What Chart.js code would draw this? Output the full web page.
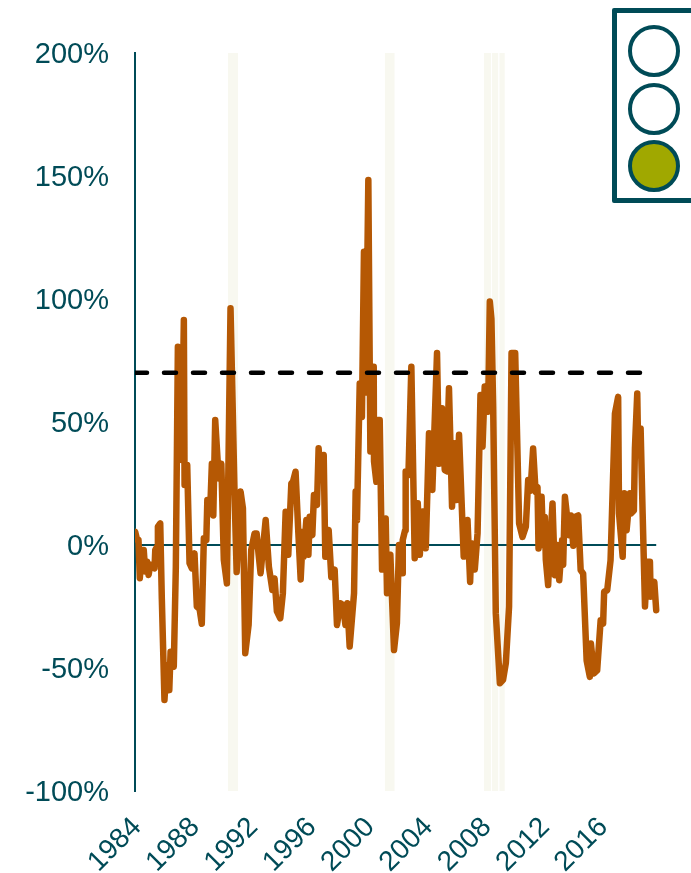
<!DOCTYPE html>
<html>
<head>
<meta charset="utf-8">
<title>Chart</title>
<script src="https://cdn.jsdelivr.net/npm/chart.js@4"></script>
<style>
    html, body { margin: 0; padding: 0; background: #fff; overflow: hidden; }
    #wrap { position: relative; width: 691px; height: 873px; }
    #light { position: absolute; left: 612px; top: 8px; width: 90px; height: 185px; border: 5px solid #004b57; border-radius: 2px; }
    .lamp { position: absolute; left: 628px; width: 44px; height: 44px; border: 4px solid #004b57; border-radius: 50%; background: #fff; }
    .lamp.on { background: #a0a800; }
</style>
</head>
<body>
<div id="wrap">
    <canvas id="chart" width="691" height="873"></canvas>
    <div id="light"></div>
    <div class="lamp" style="top:25px"></div>
    <div class="lamp" style="top:83px"></div>
    <div class="lamp on" style="top:140px"></div>
</div>
<script>
// Decimal years against percent
const dates = [
    1984.01, 1984.15, 1984.24, 1984.33, 1984.47, 1984.60, 1984.70, 1984.84, 1984.93, 1985.06,
    1985.34, 1985.39, 1985.52, 1985.57, 1985.73, 1985.84, 1986.02, 1986.16, 1986.35, 1986.44,
    1986.66, 1986.80, 1986.94, 1987.07, 1987.21, 1987.35, 1987.40, 1987.58, 1987.74, 1987.90,
    1988.08, 1988.24, 1988.43, 1988.58, 1988.72, 1988.89, 1988.96, 1989.18, 1989.27, 1989.37,
    1989.50, 1989.68, 1989.75, 1989.92, 1990.09, 1990.30, 1990.55, 1990.83, 1990.97, 1991.24,
    1991.40, 1991.56, 1991.79, 1991.97, 1992.20, 1992.34, 1992.48, 1992.61, 1992.96, 1993.18,
    1993.42, 1993.57, 1993.73, 1993.96, 1994.14, 1994.33, 1994.51, 1994.72, 1994.83, 1995.01,
    1995.20, 1995.36, 1995.52, 1995.56, 1995.75, 1995.89, 1995.98, 1996.16, 1996.27, 1996.48,
    1996.59, 1996.75, 1996.94, 1997.05, 1997.28, 1997.46, 1997.69, 1997.85, 1998.08, 1998.26,
    1998.43, 1998.56, 1998.72, 1999.02, 1999.13, 1999.22, 1999.41, 1999.56, 1999.70, 1999.82,
    2000.00, 2000.14, 2000.37, 2000.39, 2000.55, 2000.66, 2000.78, 2000.94, 2001.19, 2001.28,
    2001.51, 2001.76, 2001.96, 2002.10, 2002.33, 2002.36, 2002.52, 2002.56, 2002.75, 2002.95,
    2003.18, 2003.39, 2003.53, 2003.71, 2003.80, 2003.94, 2004.16, 2004.39, 2004.71, 2004.85,
    2005.05, 2005.24, 2005.36, 2005.53, 2005.74, 2005.88, 2006.04, 2006.22, 2006.54, 2006.80,
    2006.98, 2007.07, 2007.30, 2007.49, 2007.69, 2007.83, 2007.98, 2008.21, 2008.33, 2008.44,
    2008.56, 2008.74, 2009.02, 2009.24, 2009.43, 2009.65, 2009.82, 2010.07, 2010.34, 2010.57,
    2010.80, 2010.96, 2011.12, 2011.30, 2011.47, 2011.60, 2011.67, 2011.88, 2011.99, 2012.10,
    2012.17, 2012.33, 2012.45, 2012.63, 2012.79, 2012.95, 2013.09, 2013.29, 2013.36, 2013.48,
    2013.77, 2013.89, 2014.05, 2014.16, 2014.39, 2014.56, 2014.73, 2014.97, 2015.19, 2015.26,
    2015.47, 2015.69, 2015.93, 2016.10, 2016.17, 2016.38, 2016.61, 2016.68, 2016.91, 2017.13,
    2017.19, 2017.44, 2017.55, 2017.71, 2017.94, 2018.01, 2018.21, 2018.28, 2018.44, 2018.51,
    2018.67, 2018.81, 2018.97, 2019.13, 2019.31, 2019.36, 2019.61, 2019.74
];
const growth = [
    5.4, 2, 2, -13.5, -2, -2, -10.8, -6.8, -12.2, -8,
    -9.5, -2, -0.7, 7.5, 8.8, -22, -63, -48.8, -59, -43.4,
    -49.5, -8.8, 80.6, 40, 34.6, 91.5, 24.4, 32.5, -7.4, -9.5,
    -3.4, -25, -26, -32, 2.7, 2, 18.3, 18, 33, 12,
    50.8, 33, 27, 33, -6, -15.6, 96.2, 20, -11, 21.7,
    15, -44, -32.5, -2, 4.7, 4.7, -4, -11.5, 10.2, -8.8,
    -18.3, -13.6, -27, -29.8, -19.6, 13.5, -4, 25, 25.7, 29.8,
    5, -14, 5.4, -4.8, 10.2, -4, 11.5, 4, 20.3, 16.3,
    39.3, 26.4, 36.6, -4.8, 6.1, -13, -10, -32.5, -23.7, -24.4,
    -32.5, -23.7, -41.3, -19.6, 21.7, 10, 65.7, 52, 119.2, 62,
    148.4, 38, 72.5, 34, 25.7, 50.8, 50.8, -10, 10.8, -19.6,
    -4, -42.7, -31.8, 0, -11.5, 2, 6, 29.9, 28.5, 72.5,
    -5.4, 17, -4, 13.6, 13.6, -1.3, 45.4, 22.4, 78, 33,
    55.6, 30.5, 30, 63.7, 15.6, 41.4, 18.3, 44.8, -4.7, 10.2,
    -15, 0.7, -10, 4.8, 61, 40, 64.4, 54.2, 99, 92,
    56.3, -27.7, -56.2, -54.8, -48, -25, 78, 78, 8.8, 3.3,
    7.4, 26.4, 22, 39.2, 21.6, 23.6, -1.4, 19.6, 0, 11.4,
    -6, -16.3, -0.8, 16.9, -12.3, 0, -14.3, 2, -8, 19.6,
    4, 12, -0.3, 11.4, 12, -10.2, -11.6, -47, -53.6, -40,
    -52.2, -51, -30.6, -32, -19, -18.4, -6.2, 7.4, 53.4, 60.2,
    12.8, -4.8, 21, 6, 21, 12.8, 14, 39.2, 61.6, 36.5,
    47.4, 12.8, -25, -6.8, -6.8, -21, -15, -26.5
];
const threshold = 70;
const thresholdEnd = 2018.97;
const bandStarts = [1990.38, 2001.12, 2007.92, 2008.48, 2008.98];
const bandEnds = [1991.07, 2001.81, 2008.42, 2008.92, 2009.36];
const yearTicks = [1984, 1988, 1992, 1996, 2000, 2004, 2008, 2012, 2016];
const percentTicks = [200, 150, 100, 50, 0, -50, -100];

const INK = '#004b57';
const LINE = '#b55804';
const BAND = '#f8f8f0';

const bandDatasets = bandStarts.map((start, i) => ({
    data: [{ x: start, y: 200 }, { x: bandEnds[i], y: 200 }],
    borderWidth: 0,
    pointRadius: 0,
    backgroundColor: BAND,
    fill: { value: -100 },
    order: 4
}));

new Chart(document.getElementById('chart'), {
    type: 'line',
    data: {
        datasets: [
            {
                data: [{ x: 1984, y: threshold }, { x: thresholdEnd, y: threshold }],
                borderColor: '#000',
                borderWidth: 4.5,
                borderDash: [12, 17],
                borderCapStyle: 'round',
                pointRadius: 0,
                order: 1
            },
            {
                data: dates.map((d, i) => ({ x: d, y: growth[i] })),
                borderColor: LINE,
                borderWidth: 6.5,
                borderJoinStyle: 'round',
                borderCapStyle: 'round',
                pointRadius: 0,
                tension: 0,
                order: 2
            },
            {
                data: [{ x: 1984, y: 0 }, { x: dates[dates.length - 1], y: 0 }],
                borderColor: INK,
                borderWidth: 2,
                pointRadius: 0,
                order: 3
            },
            ...bandDatasets
        ]
    },
    options: {
        responsive: false,
        animation: false,
        layout: { padding: { top: 53, right: 31, bottom: 0, left: 0 } },
        plugins: {
            legend: { display: false },
            tooltip: { enabled: false }
        },
        scales: {
            x: {
                type: 'linear',
                min: 1984,
                max: 2020,
                afterBuildTicks: axis => { axis.ticks = yearTicks.map(v => ({ value: v })); },
                afterFit: axis => { axis.height = 82; },
                grid: { display: false, drawTicks: false },
                border: { display: false },
                ticks: {
                    autoSkip: false,
                    minRotation: 45,
                    maxRotation: 45,
                    padding: 20,
                    labelOffset: 2,
                    color: INK,
                    font: { family: "'Liberation Sans', sans-serif", size: 28 },
                    callback: value => String(value)
                }
            },
            y: {
                min: -100,
                max: 200,
                afterBuildTicks: axis => { axis.ticks = percentTicks.map(v => ({ value: v })); },
                afterFit: axis => { axis.width = 135; },
                grid: { display: false, drawTicks: false },
                border: { color: INK, width: 2 },
                ticks: {
                    padding: 26,
                    labelOffset: 1.5,
                    color: INK,
                    font: { family: "'Liberation Sans', sans-serif", size: 29 },
                    callback: value => value + '%'
                }
            }
        }
    }
});
</script>
</body>
</html>
